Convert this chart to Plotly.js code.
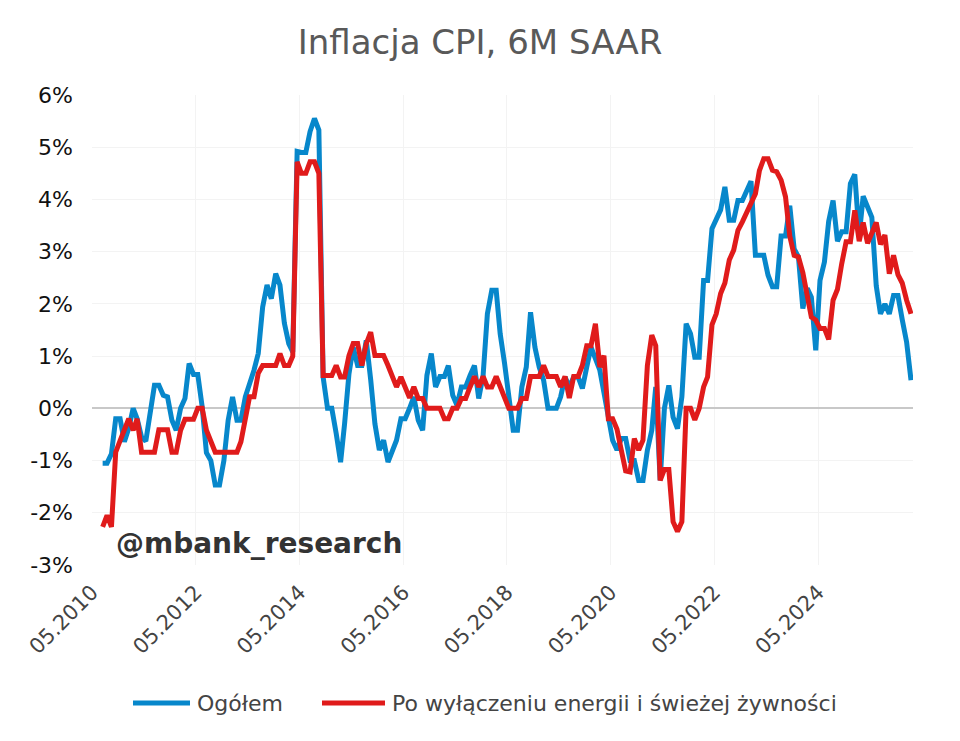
<!DOCTYPE html>
<html>
<head>
<meta charset="utf-8">
<script src="https://cdn.plot.ly/plotly-3.0.1.min.js"></script>
<style>
html,body{margin:0;padding:0;background:#fff;}
#chart{width:960px;height:741px;}
</style>
</head>
<body>
<div id="chart"></div>
<script>
// First observation: July 2010 (monthly, mid-month dates), last: February 2026
const startYear = 2010;
const startMonthIndex = 6; // July (0-based)

const seriesNames = ["Ogółem", "Po wyłączeniu energii i świeżej żywności"];
const seriesColors = ["#0787cb", "#e01b1b"];

// Ogółem (headline CPI, 6M SAAR, %)
const headline = [
  -1.05,-1.05,-0.87,-0.2,-0.2,-0.64,-0.38,0.0,-0.2,-0.55,-0.63,-0.05,
  0.44,0.44,0.25,0.22,-0.23,-0.42,0.0,0.19,0.86,0.65,0.65,0.03,
  -0.85,-1.0,-1.47,-1.47,-1.0,-0.23,0.22,-0.23,-0.23,0.22,0.44,0.73,
  1.05,1.94,2.36,2.1,2.58,2.36,1.63,1.24,1.08,4.92,4.9,4.9,
  5.3,5.55,5.33,0.6,0.0,0.0,-0.48,-1.03,-0.3,0.66,1.17,0.82,
  0.82,1.3,0.55,-0.3,-0.8,-0.61,-1.03,-0.8,-0.61,-0.2,-0.2,0.0,
  0.22,-0.23,-0.42,0.63,1.05,0.41,0.61,0.61,0.82,0.25,0.06,0.41,
  0.41,0.63,0.82,0.19,0.63,1.81,2.26,2.26,1.43,0.86,0.2,-0.42,
  -0.42,0.41,0.79,1.84,1.17,0.79,0.54,0.0,0.0,0.0,0.22,0.6,
  0.41,0.6,0.6,0.38,0.79,1.17,0.95,0.73,0.3,-0.17,-0.61,-0.8,
  -0.58,-0.58,-1.0,-1.0,-1.38,-1.38,-0.8,-0.42,0.41,-1.38,0.0,0.44,
  -0.17,-0.39,0.22,1.62,1.43,0.98,0.98,2.45,2.45,3.44,3.6,3.8,
  4.24,3.6,3.6,3.98,3.98,4.18,4.35,2.93,2.93,2.93,2.55,2.33,
  2.33,3.3,3.3,3.88,3.05,2.9,1.91,2.3,2.13,1.11,2.45,2.8,
  3.58,3.98,3.2,3.38,3.38,4.3,4.48,3.3,4.06,3.88,3.66,2.35,
  1.81,2.0,1.81,2.16,2.16,1.7,1.27,0.54
];

// Po wyłączeniu energii i świeżej żywności (core-core, 6M SAAR, %)
const coreCore = [
  -2.27,-2.05,-2.27,-0.84,-0.62,-0.41,-0.2,-0.42,-0.2,-0.84,-0.84,-0.84,
  -0.84,-0.41,-0.41,-0.41,-0.84,-0.84,-0.42,-0.21,-0.21,-0.21,0.0,0.0,
  -0.42,-0.64,-0.84,-0.84,-0.84,-0.84,-0.84,-0.84,-0.64,-0.23,0.22,0.22,
  0.67,0.82,0.82,0.82,0.82,1.05,0.82,0.82,1.0,4.72,4.5,4.5,
  4.72,4.72,4.5,0.63,0.63,0.63,0.82,0.6,0.6,1.01,1.24,1.24,
  0.82,1.24,1.46,1.01,1.01,1.01,0.82,0.6,0.41,0.6,0.41,0.2,
  0.41,0.19,0.19,0.0,0.0,0.0,0.0,-0.2,-0.2,0.0,0.0,0.19,
  0.19,0.41,0.61,0.41,0.61,0.41,0.41,0.61,0.41,0.19,0.0,0.0,
  0.0,0.19,0.19,0.61,0.61,0.61,0.82,0.61,0.61,0.61,0.41,0.61,
  0.2,0.61,0.61,0.82,1.2,1.2,1.62,0.79,1.01,-0.2,-0.2,-0.4,
  -0.8,-1.2,-1.22,-0.58,-0.8,-0.61,0.82,1.4,1.2,-1.38,-1.17,-1.17,
  -2.17,-2.36,-2.17,0.0,0.0,-0.22,0.0,0.41,0.6,1.6,1.81,2.2,
  2.4,2.84,3.03,3.41,3.57,3.76,3.95,4.11,4.55,4.78,4.78,4.56,
  4.53,4.37,4.05,3.3,2.93,2.9,2.6,2.2,1.75,1.69,1.53,1.53,
  1.32,2.07,2.28,2.77,3.19,3.19,3.79,3.2,3.56,3.16,3.35,3.56,
  3.14,3.32,2.58,2.93,2.56,2.4,2.07,1.81
];

const yTickVals = [-3,-2,-1,0,1,2,3,4,5,6];
const yTickText = ["-3%","-2%","-1%","0%","1%","2%","3%","4%","5%","6%"];

function pad(n){return (n<10?"0":"")+n;}
const dates = headline.map(function(_, i){
  const d = new Date(Date.UTC(startYear, startMonthIndex + i, 15));
  return d.getUTCFullYear() + "-" + pad(d.getUTCMonth()+1) + "-15";
});

const FONT = "DejaVu Sans, Verdana, sans-serif";
const W = 960, H = 741;
const M = {l: 92, r: 47, t: 95, b: 176};
const PW = W - M.l - M.r, PH = H - M.t - M.b;
function px2x(px){ return (px - M.l) / PW; }
function py2y(py){ return (H - M.b - py) / PH; }

const traces = [
  {
    x: dates, y: headline, name: seriesNames[0], type: "scatter", mode: "lines",
    line: {color: seriesColors[0], width: 5}, hoverinfo: "skip", showlegend: false
  },
  {
    x: dates, y: coreCore, name: seriesNames[1], type: "scatter", mode: "lines",
    line: {color: seriesColors[1], width: 5}, hoverinfo: "skip", showlegend: false
  }
];

// Legend drawn below the chart (line sample + label)
const legendY = py2y(703);
const legendItems = [
  {x0: 133, x1: 190, tx: 195},
  {x0: 322, x1: 385, tx: 390}
];
const shapes = legendItems.map(function(it, i){
  return {type: "line", xref: "paper", yref: "paper",
    x0: px2x(it.x0), x1: px2x(it.x1), y0: legendY, y1: legendY,
    line: {color: seriesColors[i], width: 5}};
});
const annotations = legendItems.map(function(it, i){
  return {text: seriesNames[i], xref: "paper", yref: "paper",
    x: px2x(it.tx), y: legendY, xanchor: "left", yanchor: "middle", showarrow: false,
    font: {family: FONT, size: 22, color: "#444"}};
});
annotations.push({
  text: "@mbank_research", xref: "paper", yref: "paper",
  x: px2x(114), y: py2y(543), xanchor: "left", yanchor: "middle", showarrow: false,
  font: {family: FONT, size: 28, color: "#333", weight: "bold"}
});

const layout = {
  width: W, height: H,
  margin: M,
  paper_bgcolor: "#ffffff", plot_bgcolor: "#ffffff",
  font: {family: FONT, color: "#444"},
  title: {
    text: "Inflacja CPI, 6M SAAR",
    font: {family: FONT, size: 34, color: "#595959"},
    x: 0.5, xref: "container", xanchor: "center",
    y: 0.943, yref: "container", yanchor: "middle"
  },
  xaxis: {
    type: "date",
    range: ["2010-05-01", "2026-03-01"],
    tick0: "2010-05-01", dtick: "M24", tickformat: "%m.%Y",
    tickangle: -45,
    tickfont: {family: FONT, size: 21, color: "#444"},
    ticks: "", ticklabelstandoff: 10,
    showgrid: true, gridcolor: "#f3f3f3", gridwidth: 1,
    zeroline: false, showline: false, fixedrange: true
  },
  yaxis: {
    range: [-3, 6],
    tickvals: yTickVals, ticktext: yTickText,
    tickfont: {family: FONT, size: 22, color: "#111"},
    ticks: "", ticklabelstandoff: 18,
    showgrid: true, gridcolor: "#f3f3f3", gridwidth: 1,
    zeroline: true, zerolinecolor: "#c8c8c8", zerolinewidth: 2,
    showline: false, fixedrange: true
  },
  showlegend: false,
  shapes: shapes,
  annotations: annotations
};

Plotly.newPlot("chart", traces, layout, {displayModeBar: false, staticPlot: true});
</script>
</body>
</html>
